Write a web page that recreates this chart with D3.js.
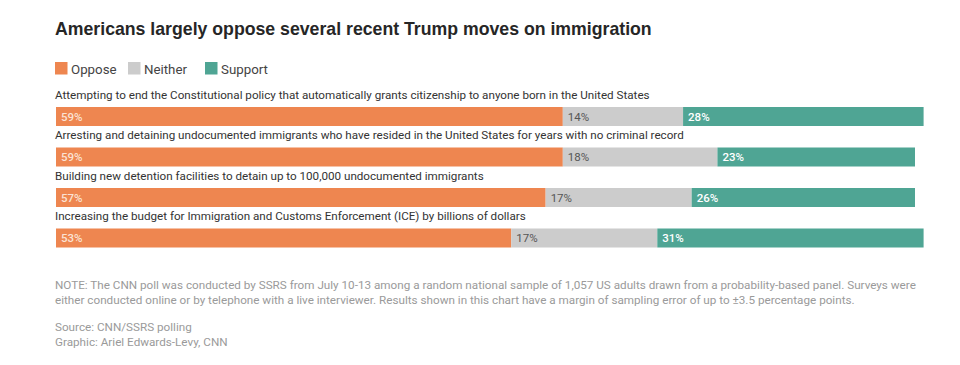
<!DOCTYPE html>
<html><head><meta charset="utf-8">
<script src="https://cdn.jsdelivr.net/npm/d3@7"></script>
<style>body{margin:0;background:#fff;}svg{display:block;}</style>
</head><body>
<svg id="c" width="960" height="365"></svg>
<script>
const categories = [
  "Attempting to end the Constitutional policy that automatically grants citizenship to anyone born in the United States",
  "Arresting and detaining undocumented immigrants who have resided in the United States for years with no criminal record",
  "Building new detention facilities to detain up to 100,000 undocumented immigrants",
  "Increasing the budget for Immigration and Customs Enforcement (ICE) by billions of dollars"
];
const seriesNames = ["Oppose", "Neither", "Support"];
const oppose = [59, 59, 57, 53];
const neither = [14, 18, 17, 17];
const support = [28, 23, 26, 31];
const colors = ["#EE8650", "#CCCCCC", "#4FA594"];
const textColors = ["#FBE2D3", "#555555", "#FFFFFF"];
const title = "Americans largely oppose several recent Trump moves on immigration";
const noteLines = [
  "NOTE: The CNN poll was conducted by SSRS from July 10-13 among a random national sample of 1,057 US adults drawn from a probability-based panel. Surveys were",
  "either conducted online or by telephone with a live interviewer. Results shown in this chart have a margin of sampling error of up to \u00b13.5 percentage points."
];
const sourceLines = ["Source: CNN/SSRS polling", "Graphic: Ariel Edwards-Levy, CNN"];

const svg = d3.select("#c");
const bodyFont = "Roboto, 'Liberation Sans', sans-serif";

svg.append("text").attr("x", 55).attr("y", 35)
  .attr("font-family", "'Liberation Sans', Arial, sans-serif").attr("font-weight", "bold")
  .attr("font-size", 17.7).attr("fill", "#262626").text(title);

// legend
const legX = [55, 128, 205];
seriesNames.forEach((s, i) => {
  const g = svg.append("g").attr("transform", `translate(${legX[i]},62)`);
  g.append("rect").attr("width", 12.5).attr("height", 12.5).attr("fill", colors[i]);
  g.append("text").attr("x", 16).attr("y", 11.5).attr("font-family", bodyFont)
    .attr("font-size", 13.3).attr("fill", "#444").text(s);
});

const x = d3.scaleLinear().domain([0, 100]).range([56, 915]);
const y = d3.scaleBand().domain(d3.range(categories.length)).range([87, 249]).paddingInner(0).paddingOuter(0);

const data = categories.map((c, i) => ({c, vals: [oppose[i], neither[i], support[i]]}));
data.forEach((d, i) => {
  const top = y(i);
  svg.append("text").attr("x", 55).attr("y", top + 11.5).attr("font-family", bodyFont)
    .attr("font-size", 11.65).attr("fill", "#333").text(d.c);
  let cum = 0;
  d.vals.forEach((v, j) => {
    const x0 = x(cum), x1 = x(cum + v);
    svg.append("rect").attr("x", x0).attr("y", top + 20).attr("width", x1 - x0).attr("height", 19)
      .attr("fill", colors[j]);
    svg.append("text").attr("x", x0 + 5).attr("y", top + 33.5).attr("font-family", bodyFont)
      .attr("font-size", 11.5).attr("font-weight", j === 1 ? "normal" : 500)
      .attr("fill", textColors[j]).text(v + "%");
    cum += v;
  });
});

noteLines.forEach((l, i) => {
  svg.append("text").attr("x", 55).attr("y", 289 + i * 14.5).attr("font-family", bodyFont)
    .attr("font-size", 11.7).attr("fill", "#9a9a9a").text(l);
});
sourceLines.forEach((l, i) => {
  svg.append("text").attr("x", 55).attr("y", 331 + i * 14.5).attr("font-family", bodyFont)
    .attr("font-size", 11.7).attr("fill", "#9a9a9a").text(l);
});
</script>
</body></html>
